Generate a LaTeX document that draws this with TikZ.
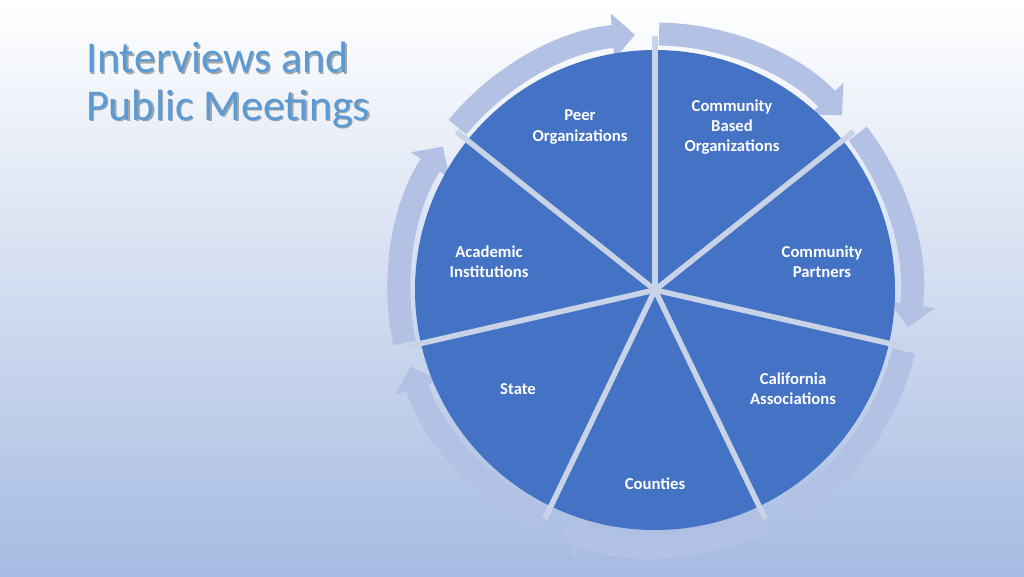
\documentclass[tikz,border=0pt]{standalone}
\usepackage{fontspec}
\setmainfont{Carlito}
\usetikzlibrary{arrows.meta}
\definecolor{piefill}{HTML}{4472C4}
\definecolor{ringfill}{HTML}{B3C2E4}
\definecolor{sepline}{HTML}{C9D3E8}
\definecolor{titleblue}{HTML}{5B9BD5}
\definecolor{bgbottom}{HTML}{A6BBE2}
\begin{document}
\begin{tikzpicture}[x=0.02cm,y=0.02cm]
\tikzset{
  lbl/.style={text=white,font=\fontsize{9.5}{11.5}\selectfont\bfseries,align=center,inner sep=0pt},
  ring/.style={ringfill,line width=0.46cm,-{Triangle[length=0.45cm,width=0.9cm]}},
  sep/.style={sepline,line width=0.11cm}
}
\useasboundingbox (0,0) rectangle (1024,576);
\shade[top color=white,bottom color=bgbottom] (0,0) rectangle (1024,576);
% title
\node[anchor=north west,align=left,text=black!35,font=\fontsize{25}{27}\selectfont] at (81.5,538.5) {Interviews and\\Public Meetings};
\node[anchor=north west,align=left,text=titleblue,font=\fontsize{25}{27}\selectfont] (title) at (80,540) {Interviews and\\Public Meetings};
\coordinate (c) at (655,286);
% ring with arrows
\foreach \i in {0,...,6}{
  \pgfmathsetmacro{\a}{90+51.43*\i+50.5}
  \draw[ring] (c) ++(\a:256) arc[start angle=\a, end angle=\a-46, radius=256];
}
% pie
\fill[piefill] (c) circle (240);
\foreach \i in {0,...,6}{
  \draw[sep] (c) -- ++({90+51.43*\i}:254);
}
\node[lbl] (peer) at (580,449) {Peer\\Organizations};
\node[lbl] (cbo) at (732,449) {Community\\Based\\Organizations};
\node[lbl] (partners) at (822,314) {Community\\Partners};
\node[lbl] (calif) at (793,187) {California\\Associations};
\node[lbl] (counties) at (655,92) {Counties};
\node[lbl] (state) at (518,187) {State};
\node[lbl] (academic) at (489,314) {Academic\\Institutions};
\end{tikzpicture}
\end{document}
